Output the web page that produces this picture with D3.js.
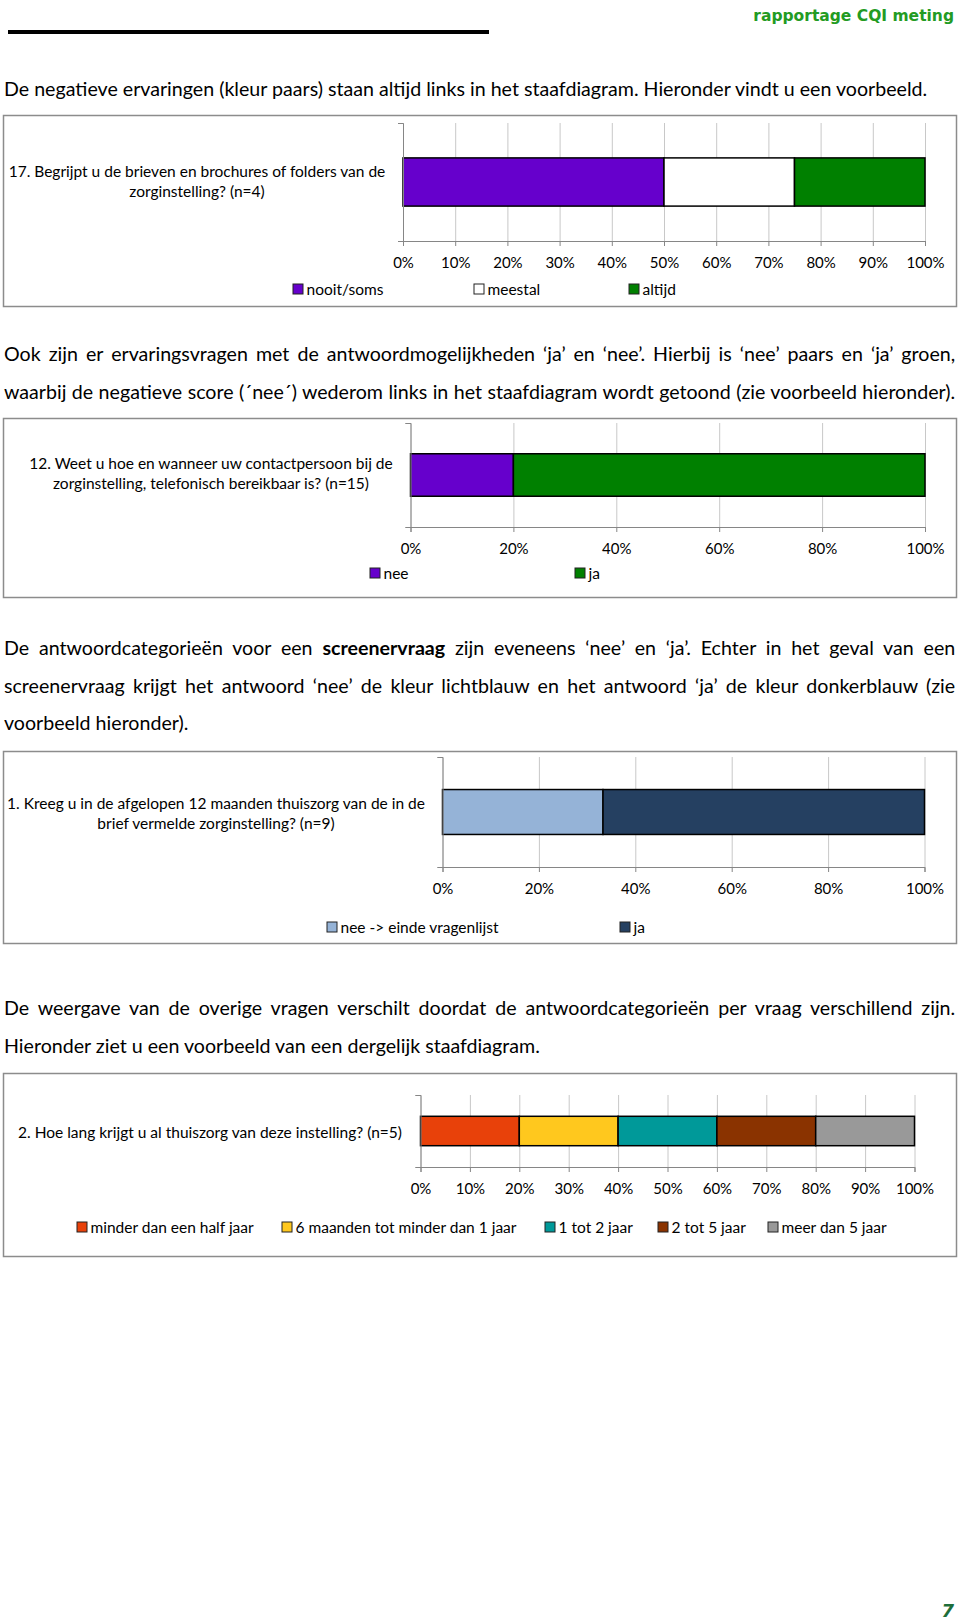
<!DOCTYPE html>
<html>
<head>
<meta charset="utf-8">
<script src="https://cdn.jsdelivr.net/npm/d3@7"></script>
<style>
  body { margin: 0; background: #fff; }
  svg { display: block; font-family: Lato, "Open Sans", sans-serif; }
</style>
</head>
<body>
<script>
// DATA ---------------------------------------------------------------------------
const headerTitle = "rapportage CQI meting";
const pageNumber = "7";

const intro1 = ["De negatieve ervaringen (kleur paars) staan altijd links in het staafdiagram. Hieronder vindt u een voorbeeld."];
const intro2 = [
  "Ook zijn er ervaringsvragen met de antwoordmogelijkheden ‘ja’ en ‘nee’. Hierbij is ‘nee’ paars en ‘ja’ groen,",
  "waarbij de negatieve score (´nee´) wederom links in het staafdiagram wordt getoond (zie voorbeeld hieronder)."
];
const intro3 = [
  ["De antwoordcategorieën voor een ", "screenervraag", " zijn eveneens ‘nee’ en ‘ja’. Echter in het geval van een"],
  ["screenervraag krijgt het antwoord ‘nee’ de kleur lichtblauw en het antwoord ‘ja’ de kleur donkerblauw (zie"],
  ["voorbeeld hieronder)."]
];
const intro4 = [
  "De weergave van de overige vragen verschilt doordat de antwoordcategorieën per vraag verschillend zijn.",
  "Hieronder ziet u een voorbeeld van een dergelijk staafdiagram."
];

const ticks10 = [0, 10, 20, 30, 40, 50, 60, 70, 80, 90, 100];
const ticks20 = [0, 20, 40, 60, 80, 100];

const q17Label = ["17. Begrijpt u de brieven en brochures of folders van de", "zorginstelling? (n=4)"];
const q17Categories = ["nooit/soms", "meestal", "altijd"];
const q17Values = [50, 25, 25];
const q17Colors = ["#6600cc", "#ffffff", "#008000"];

const q12Label = ["12. Weet u hoe en wanneer uw contactpersoon bij de", "zorginstelling, telefonisch bereikbaar is? (n=15)"];
const q12Categories = ["nee", "ja"];
const q12Values = [20, 80];
const q12Colors = ["#6600cc", "#008000"];

const q1Label = ["1. Kreeg u in de afgelopen 12 maanden thuiszorg van de in de", "brief vermelde zorginstelling? (n=9)"];
const q1Categories = ["nee -> einde vragenlijst", "ja"];
const q1Values = [33.3, 66.7];
const q1Colors = ["#95b3d7", "#254061"];

const q2Label = ["2. Hoe lang krijgt u al thuiszorg van deze instelling? (n=5)"];
const q2Categories = ["minder dan een half jaar", "6 maanden tot minder dan 1 jaar", "1 tot 2 jaar", "2 tot 5 jaar", "meer dan 5 jaar"];
const q2Values = [20, 20, 20, 20, 20];
const q2Colors = ["#e8410a", "#ffc81e", "#009999", "#8a3300", "#999999"];

// PAGE ---------------------------------------------------------------------------
const svg = d3.select("body").append("svg")
  .attr("width", 960)
  .attr("height", 1622);

// header
svg.append("text")
  .attr("x", 954).attr("y", 21)
  .attr("text-anchor", "end")
  .attr("font-family", "'DejaVu Sans', sans-serif")
  .attr("font-weight", "bold")
  .attr("font-size", 15.5)
  .attr("fill", "#239b23")
  .text(headerTitle);

svg.append("rect")
  .attr("x", 8).attr("y", 30)
  .attr("width", 481).attr("height", 4)
  .attr("fill", "#000");

// footer
svg.append("text")
  .attr("x", 954).attr("y", 1617)
  .attr("text-anchor", "end")
  .attr("font-family", "'DejaVu Sans', sans-serif")
  .attr("font-weight", "bold")
  .attr("font-style", "italic")
  .attr("font-size", 18)
  .attr("fill", "#1e6e3a")
  .text(pageNumber);

// PARAGRAPHS ---------------------------------------------------------------------
const textLeft = 4, textRight = 956;
const paraSize = 18.5;

const addLine = (parts, y) => {
  const t = svg.append("text")
    .attr("font-size", paraSize)
    .attr("fill", "#000")
    .attr("transform", `translate(${textLeft},${y})`);
  parts.forEach((p, i) => {
    t.append("tspan")
      .attr("font-weight", (parts.length === 3 && i === 1) ? "bold" : null)
      .text(p);
  });
  return t;
};

// common horizontal squeeze so the first (unjustified) line ends where it does in the report
const first = addLine(intro1, 96);
const k = (928 - textLeft) / first.node().getComputedTextLength();

const place = (t, y, justify) => {
  const nat = t.node().getComputedTextLength();
  t.attr("transform", `translate(${textLeft},${y}) scale(${k},1)`);
  if (justify) {
    const spaces = (t.text().match(/ /g) || []).length;
    t.attr("word-spacing", ((textRight - textLeft) / k - nat) / spaces);
  }
};

place(first, 96, false);
intro2.forEach((s, i) => place(addLine([s], 361 + i * 38), 361 + i * 38, true));
intro3.forEach((parts, i) => place(addLine(parts, 655 + i * 37.5), 655 + i * 37.5, i < 2));
intro4.forEach((s, i) => place(addLine([s], 1015 + i * 38), 1015 + i * 38, i < 1));

// CHARTS -------------------------------------------------------------------------
const drawChart = (cfg) => {
  // frame
  svg.append("rect")
    .attr("x", 3.5).attr("y", cfg.boxTop)
    .attr("width", 953).attr("height", cfg.boxBottom - cfg.boxTop)
    .attr("fill", "none")
    .attr("stroke", "#8c8c8c")
    .attr("stroke-width", 1.5);

  const x = d3.scaleLinear().domain([0, 100]).range(cfg.xRange);
  const y = d3.scaleBand().domain([cfg.label.join(" ")]).range([cfg.top, cfg.bottom]).padding(0.42);
  const g = svg.append("g");

  // gridlines
  g.append("g")
    .attr("transform", `translate(0,${cfg.bottom})`)
    .call(d3.axisBottom(x).tickValues(cfg.ticks).tickSize(-(cfg.bottom - cfg.top)).tickFormat(""))
    .call(a => a.select(".domain").remove())
    .selectAll("line").attr("stroke", "#c8c8c8");

  // bars
  const starts = [0, ...d3.cumsum(cfg.values)];
  g.selectAll(".seg")
    .data(cfg.values)
    .enter()
    .append("rect")
    .attr("class", "seg")
    .attr("x", (d, i) => x(starts[i]))
    .attr("y", y(cfg.label.join(" ")))
    .attr("width", d => x(d) - x(0))
    .attr("height", y.bandwidth())
    .attr("fill", (d, i) => cfg.colors[i])
    .attr("stroke", "#000")
    .attr("stroke-width", 1.5);

  // x axis
  const xAxis = g.append("g")
    .attr("transform", `translate(0,${cfg.bottom})`)
    .call(d3.axisBottom(x).tickValues(cfg.ticks).tickSize(5).tickPadding(11).tickFormat(d => d + "%"));
  xAxis.select(".domain").attr("stroke", "#868686");
  xAxis.selectAll("line").attr("stroke", "#868686");
  xAxis.selectAll("text").attr("font-size", 15).attr("fill", "#000")
    .attr("font-family", "Lato, sans-serif");

  // category axis
  const yLin = d3.scaleLinear().domain([0, 1]).range([cfg.top, cfg.bottom]);
  const yAxis = g.append("g")
    .attr("transform", `translate(${cfg.xRange[0]},0)`)
    .call(d3.axisLeft(yLin).tickValues([0, 1]).tickSize(5).tickFormat(""));
  yAxis.select(".domain").attr("stroke", "#868686");
  yAxis.selectAll("line").attr("stroke", "#868686");

  // question label
  g.append("text")
    .attr("text-anchor", "middle")
    .attr("font-size", 15.5)
    .attr("fill", "#000")
    .selectAll("tspan")
    .data(cfg.label)
    .enter()
    .append("tspan")
    .attr("x", cfg.labelX)
    .attr("y", (d, i) => cfg.labelY + i * 20)
    .text(d => d);

  // legend
  const leg = g.selectAll(".leg")
    .data(cfg.categories)
    .enter()
    .append("g")
    .attr("transform", (d, i) => `translate(${cfg.legendX[i]},${cfg.legendY})`);
  leg.append("rect")
    .attr("x", 0).attr("y", -5)
    .attr("width", 10).attr("height", 10)
    .attr("fill", (d, i) => cfg.colors[i])
    .attr("stroke", "#222")
    .attr("stroke-width", 1);
  leg.append("text")
    .attr("x", 13.5).attr("y", 5.5)
    .attr("font-size", 15.5)
    .attr("fill", "#000")
    .text(d => d);
};

drawChart({
  boxTop: 115.5, boxBottom: 306.5,
  xRange: [403, 925], top: 123, bottom: 241,
  ticks: ticks10, values: q17Values, colors: q17Colors, categories: q17Categories,
  label: q17Label, labelX: 197, labelY: 177,
  legendX: [293, 474, 629], legendY: 289
});

drawChart({
  boxTop: 418.5, boxBottom: 597.5,
  xRange: [410.5, 925], top: 423, bottom: 527,
  ticks: ticks20, values: q12Values, colors: q12Colors, categories: q12Categories,
  label: q12Label, labelX: 211, labelY: 469,
  legendX: [370, 575], legendY: 573
});

drawChart({
  boxTop: 751.5, boxBottom: 943.5,
  xRange: [442.5, 924.5], top: 757, bottom: 867,
  ticks: ticks20, values: q1Values, colors: q1Colors, categories: q1Categories,
  label: q1Label, labelX: 216, labelY: 809,
  legendX: [327, 620], legendY: 927
});

drawChart({
  boxTop: 1073.5, boxBottom: 1256.5,
  xRange: [420.5, 914.5], top: 1095, bottom: 1167,
  ticks: ticks10, values: q2Values, colors: q2Colors, categories: q2Categories,
  label: q2Label, labelX: 210, labelY: 1138,
  legendX: [77, 282, 545, 658, 768], legendY: 1227
});
</script>
</body>
</html>
